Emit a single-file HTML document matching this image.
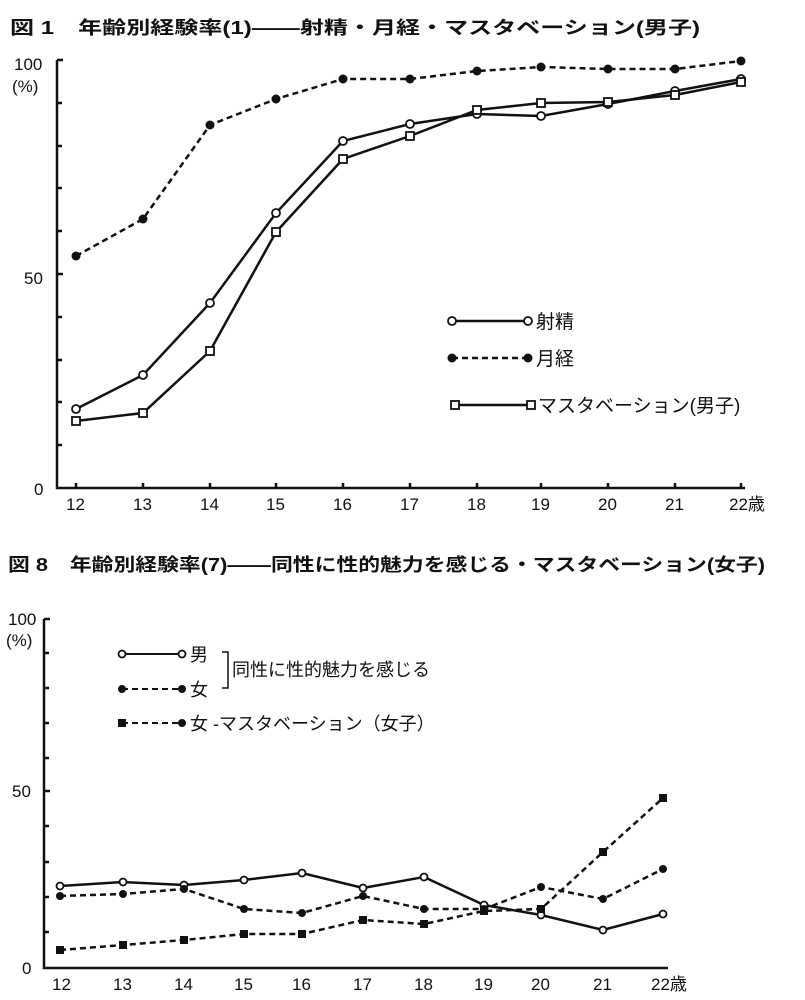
<!DOCTYPE html>
<html><head><meta charset="utf-8"><style>
body{margin:0;background:#fff}
svg{display:block}
text{font-family:"Liberation Sans","Noto Sans CJK JP",sans-serif;fill:#111}
.t{font-weight:bold;font-size:17px}
.l{font-size:17px}
</style></head><body>
<svg width="805" height="1000" viewBox="0 0 805 1000" xmlns="http://www.w3.org/2000/svg">
<text class="t" x="10" y="34" textLength="690" lengthAdjust="spacingAndGlyphs" style="font-size:18px">図 1　年齢別経験率(1)——射精・月経・マスタベーション(男子)</text>
<text class="l" x="14" y="70">100</text>
<text class="l" x="12" y="92">(%)</text>
<text class="l" x="24" y="284">50</text>
<text class="l" x="34" y="495">0</text>
<g stroke="#111" stroke-width="2.5" fill="none">
<path d="M57 60 V488 H745"/>
<path d="M57 60 h6 M57 103 h5 M57 146 h5 M57 188 h5 M57 231 h5 M57 274 h6 M57 317 h5 M57 360 h5 M57 402 h5 M57 445 h5"/>
<path d="M76 488v-5M143 488v-5M210 488v-5M276 488v-5M343 488v-5M410 488v-5M477 488v-5M541 488v-5M608 488v-5M675 488v-5M741 488v-5"/>
</g>
<g class="l">
<text x="66" y="510" class="l">12</text><text x="133" y="510" class="l">13</text><text x="200" y="510" class="l">14</text><text x="266" y="510" class="l">15</text><text x="333" y="510" class="l">16</text><text x="400" y="510" class="l">17</text><text x="467" y="510" class="l">18</text><text x="531" y="510" class="l">19</text><text x="598" y="510" class="l">20</text><text x="665" y="510" class="l">21</text><text x="729" y="510" class="l">22歳</text>
</g>
<polyline fill="none" stroke="#111" stroke-width="2.5" stroke-dasharray="6,4" points="76,256 143,219 210,125 276,99 343,79 410,79 477,71 541,67 608,69 675,69 741,61"/>
<polyline fill="none" stroke="#111" stroke-width="2.5" points="76,409 143,375 210,303 276,213 343,141 410,124 477,114 541,116 608,104 675,91 741,79"/>
<polyline fill="none" stroke="#111" stroke-width="2.5" points="76,421 143,413 210,351 276,232 343,159 410,136 477,110 541,103 608,102 675,95 741,82"/>
<g fill="#111"><circle cx="76" cy="256" r="4.5"/><circle cx="143" cy="219" r="4.5"/><circle cx="210" cy="125" r="4.5"/><circle cx="276" cy="99" r="4.5"/><circle cx="343" cy="79" r="4.5"/><circle cx="410" cy="79" r="4.5"/><circle cx="477" cy="71" r="4.5"/><circle cx="541" cy="67" r="4.5"/><circle cx="608" cy="69" r="4.5"/><circle cx="675" cy="69" r="4.5"/><circle cx="741" cy="61" r="4.5"/></g>
<g fill="#fff" stroke="#111" stroke-width="1.8"><circle cx="76" cy="409" r="4"/><circle cx="143" cy="375" r="4"/><circle cx="210" cy="303" r="4"/><circle cx="276" cy="213" r="4"/><circle cx="343" cy="141" r="4"/><circle cx="410" cy="124" r="4"/><circle cx="477" cy="114" r="4"/><circle cx="541" cy="116" r="4"/><circle cx="608" cy="104" r="4"/><circle cx="675" cy="91" r="4"/><circle cx="741" cy="79" r="4"/>
<rect x="72" y="417" width="8" height="8"/><rect x="139" y="409" width="8" height="8"/><rect x="206" y="347" width="8" height="8"/><rect x="272" y="228" width="8" height="8"/><rect x="339" y="155" width="8" height="8"/><rect x="406" y="132" width="8" height="8"/><rect x="473" y="106" width="8" height="8"/><rect x="537" y="99" width="8" height="8"/><rect x="604" y="98" width="8" height="8"/><rect x="671" y="91" width="8" height="8"/><rect x="737" y="78" width="8" height="8"/></g>
<path d="M452 321H528" stroke="#111" stroke-width="2.5"/>
<path d="M452 358H528" stroke="#111" stroke-width="2.5" stroke-dasharray="6,4"/>
<path d="M455 405H530" stroke="#111" stroke-width="2.5"/>
<circle cx="452" cy="321" r="4" fill="#fff" stroke="#111" stroke-width="1.8"/><circle cx="528" cy="321" r="4" fill="#fff" stroke="#111" stroke-width="1.8"/>
<circle cx="452" cy="358" r="4.5" fill="#111"/><circle cx="528" cy="358" r="4.5" fill="#111"/>
<rect x="451" y="401" width="8" height="8" fill="#fff" stroke="#111" stroke-width="1.8"/><rect x="527" y="401" width="8" height="8" fill="#fff" stroke="#111" stroke-width="1.8"/>
<text class="l" x="536" y="328" style="font-size:19px">射精</text>
<text class="l" x="536" y="365" style="font-size:19px">月経</text>
<text class="l" x="538" y="412" style="font-size:19px">マスタベーション(男子)</text>

<text class="t" x="8" y="571" textLength="757" lengthAdjust="spacingAndGlyphs" style="font-size:18px">図 8　年齢別経験率(7)——同性に性的魅力を感じる・マスタベーション(女子)</text>
<text class="l" x="8" y="625">100</text>
<text class="l" x="6" y="646">(%)</text>
<text class="l" x="12" y="797">50</text>
<text class="l" x="22" y="974">0</text>
<g stroke="#111" stroke-width="2.5" fill="none">
<path d="M44 619 V968 H668"/>
<path d="M44 619h6M44 653h5M44 688h5M44 723h5M44 758h5M44 791h6M44 826h5M44 862h5M44 897h5M44 932h5"/>
</g>
<text x="52" y="990" class="l">12</text><text x="113" y="990" class="l">13</text><text x="174" y="990" class="l">14</text><text x="234" y="990" class="l">15</text><text x="292" y="990" class="l">16</text><text x="353" y="990" class="l">17</text><text x="414" y="990" class="l">18</text><text x="474" y="990" class="l">19</text><text x="531" y="990" class="l">20</text><text x="593" y="990" class="l">21</text><text x="651" y="990" class="l">22歳</text>
<polyline fill="none" stroke="#111" stroke-width="2.5" points="60,886 123,882 184,885 244,880 302,873 363,888 424,877 484,905 541,915 603,930 663,914"/>
<polyline fill="none" stroke="#111" stroke-width="2.5" stroke-dasharray="6,4" points="60,896 123,894 184,889 244,909 302,913 363,896 424,909 484,909 541,887 603,899 663,869"/>
<polyline fill="none" stroke="#111" stroke-width="2.5" stroke-dasharray="6,4" points="60,950 123,945 184,940 244,934 302,934 363,920 424,924 484,911 541,909 603,852 663,798"/>
<g fill="#fff" stroke="#111" stroke-width="1.8"><circle cx="60" cy="886" r="3.5"/><circle cx="123" cy="882" r="3.5"/><circle cx="184" cy="885" r="3.5"/><circle cx="244" cy="880" r="3.5"/><circle cx="302" cy="873" r="3.5"/><circle cx="363" cy="888" r="3.5"/><circle cx="424" cy="877" r="3.5"/><circle cx="484" cy="905" r="3.5"/><circle cx="541" cy="915" r="3.5"/><circle cx="603" cy="930" r="3.5"/><circle cx="663" cy="914" r="3.5"/></g>
<g fill="#111"><circle cx="60" cy="896" r="4"/><circle cx="123" cy="894" r="4"/><circle cx="184" cy="889" r="4"/><circle cx="244" cy="909" r="4"/><circle cx="302" cy="913" r="4"/><circle cx="363" cy="896" r="4"/><circle cx="424" cy="909" r="4"/><circle cx="484" cy="909" r="4"/><circle cx="541" cy="887" r="4"/><circle cx="603" cy="899" r="4"/><circle cx="663" cy="869" r="4"/>
<rect x="56" y="946" width="8" height="8"/><rect x="119" y="941" width="8" height="8"/><rect x="180" y="936" width="8" height="8"/><rect x="240" y="930" width="8" height="8"/><rect x="298" y="930" width="8" height="8"/><rect x="359" y="916" width="8" height="8"/><rect x="420" y="920" width="8" height="8"/><rect x="480" y="907" width="8" height="8"/><rect x="537" y="905" width="8" height="8"/><rect x="599" y="848" width="8" height="8"/><rect x="659" y="794" width="8" height="8"/></g>
<path d="M122 654H182" stroke="#111" stroke-width="2"/>
<path d="M122 689H182" stroke="#111" stroke-width="2" stroke-dasharray="6,4"/>
<path d="M122 723H182" stroke="#111" stroke-width="2" stroke-dasharray="6,4"/>
<circle cx="122" cy="654" r="3.5" fill="#fff" stroke="#111" stroke-width="1.8"/><circle cx="182" cy="654" r="3.5" fill="#fff" stroke="#111" stroke-width="1.8"/>
<circle cx="122" cy="689" r="4" fill="#111"/><circle cx="182" cy="689" r="4" fill="#111"/>
<rect x="118" y="719" width="8" height="8" fill="#111"/><circle cx="182" cy="723" r="4" fill="#111"/>
<text class="l" x="190" y="661" style="font-size:18px">男</text>
<text class="l" x="190" y="696" style="font-size:18px">女</text>
<path d="M222 652h6v36h-6" fill="none" stroke="#111" stroke-width="1.5"/>
<text class="l" x="232" y="676" style="font-size:18px">同性に性的魅力を感じる</text>
<text class="l" x="190" y="730" style="font-size:18px">女 -マスタベーション（女子）</text>
</svg>
</body></html>
